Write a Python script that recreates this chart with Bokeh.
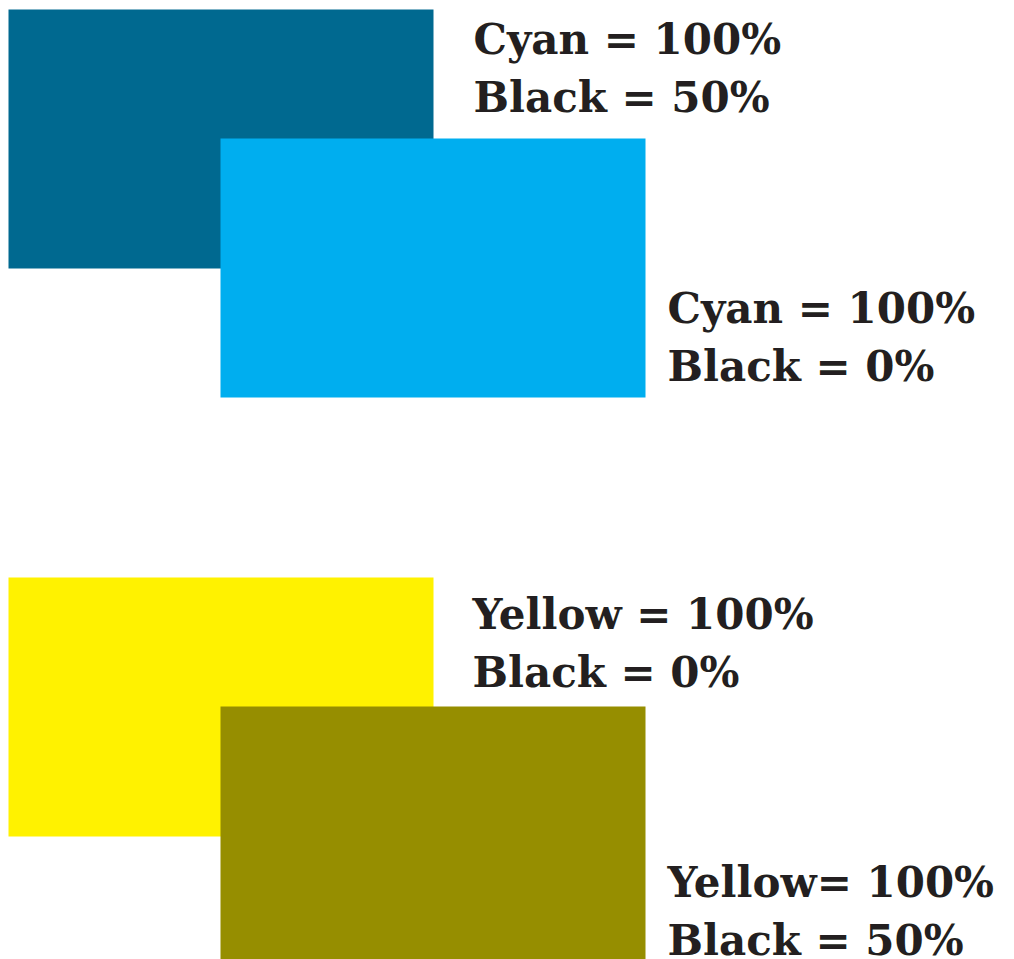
from bokeh.plotting import figure
from bokeh.models import Range1d, ColumnDataSource
from bokeh.core.properties import value
from bokeh.embed import file_html
from bokeh.resources import INLINE

# Swatch data: process ink percentages and resulting colours
swatch_names = ["Cyan 100 / K 50", "Cyan 100 / K 0", "Yellow 100 / K 0", "Yellow 100 / K 50"]
swatch_colors = ["#006990", "#00AEEF", "#FFF200", "#968E00"]
label_line1 = ["Cyan = 100%", "Cyan = 100%", "Yellow = 100%", "Yellow= 100%"]
label_line2 = ["Black = 50%", "Black = 0%", "Black = 0%", "Black = 50%"]

# Layout (picture pixels)
W, H = 1014, 959
rect_left = [8, 220, 8, 220]
rect_top = [9, 138, 577, 706]
rect_w = 425
rect_h = 259
text_x = [473, 667, 472, 667]
text_base1 = [39, 308, 614, 882]
line_gap = 58

p = figure(width=W, height=H, output_backend="svg", toolbar_location=None,
           x_range=Range1d(0, W), y_range=Range1d(H, 0),
           min_border=0, outline_line_color=None)
p.axis.visible = False
p.grid.visible = False
p.background_fill_color = "white"
p.border_fill_color = "white"

src = ColumnDataSource(dict(
    left=rect_left,
    right=[l + rect_w for l in rect_left],
    top=rect_top,
    bottom=[t + rect_h for t in rect_top],
    color=swatch_colors,
))
p.quad(left="left", right="right", top="top", bottom="bottom",
       fill_color="color", line_color=None, source=src)

xs, ys, ts = [], [], []
for i in range(4):
    xs += [text_x[i], text_x[i]]
    ys += [text_base1[i], text_base1[i] + line_gap]
    ts += [label_line1[i], label_line2[i]]

p.text(x=xs, y=ys, text=ts, text_font=value("DejaVu Serif"),
       text_font_style="bold", text_font_size="42px",
       text_color="#231F20", text_baseline="alphabetic", text_align="left")

open("out.html", "w").write(file_html(p, INLINE))
